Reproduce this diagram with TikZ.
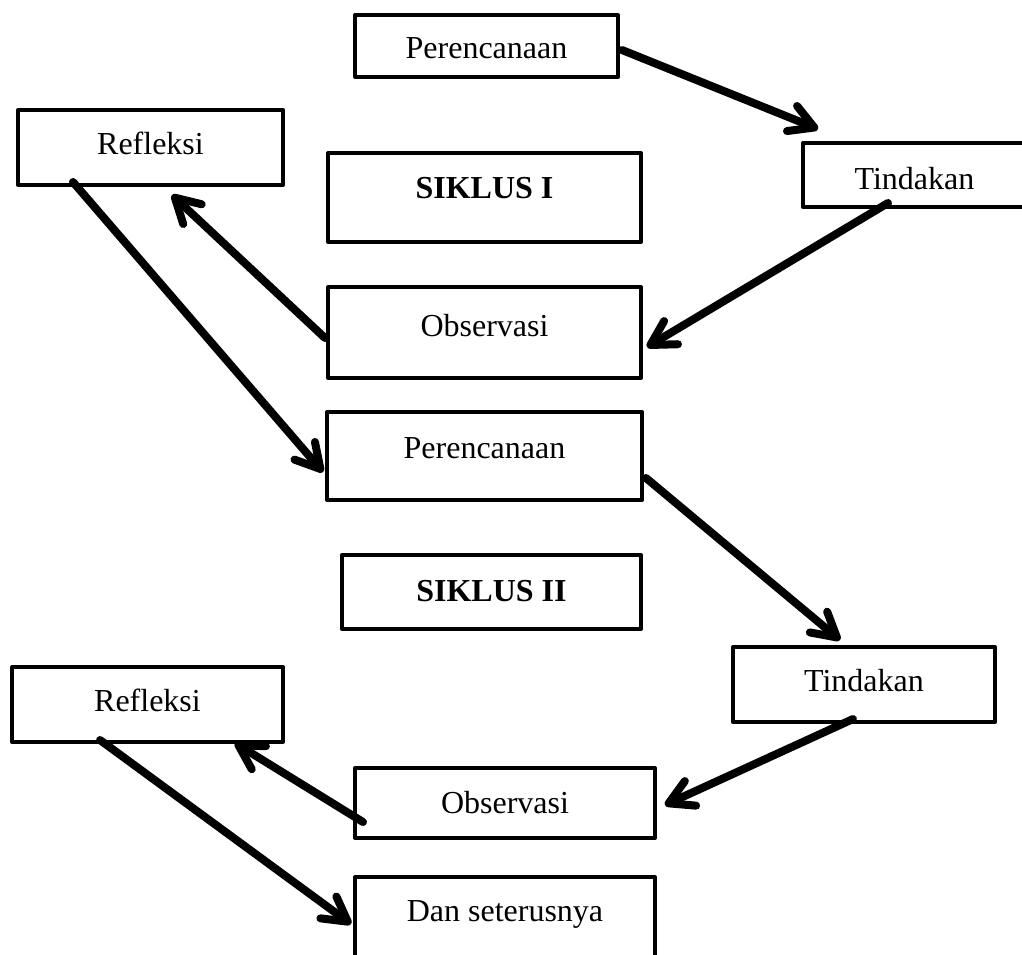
\documentclass[tikz,border=0pt]{standalone}
\usepackage{fontspec}
\setmainfont{Liberation Serif}
\usetikzlibrary{arrows.meta,calc}
\begin{document}
\begin{tikzpicture}[x=1pt,y=-1pt,
  box/.style={draw=black, line width=4pt, line join=round, rectangle, inner sep=0pt,
    font=\fontsize{32}{38}\selectfont, text height=22pt, text depth=8pt, fill=white},
  flow/.style={line width=8pt, line cap=round, line join=round,
    -{Straight Barb[length=24pt,width=27pt,line cap=round,line join=round]}}]
\useasboundingbox (0,0) rectangle (1022,954);
% boxes
\node[box, minimum width=263pt, minimum height=62pt, text height=32pt] (P1) at (486.5,46) {Perencanaan};
\node[box, minimum width=223pt, minimum height=64pt, text height=36pt] (T1) at (914.5,175) {Tindakan};
\node[box, minimum width=265pt, minimum height=75pt] (R1) at (150.5,147.5) {Refleksi};
\node[box, minimum width=313pt, minimum height=89pt, text depth=20pt, font=\fontsize{32}{38}\selectfont\bfseries] (S1) at (484.5,197.5) {SIKLUS I};
\node[box, minimum width=313pt, minimum height=91pt, text depth=14pt] (O1) at (484.5,332.5) {Observasi};
\node[box, minimum width=315pt, minimum height=88pt, text depth=18pt] (P2) at (484.5,456) {Perencanaan};
\node[box, minimum width=299pt, minimum height=74pt, text depth=4pt, font=\fontsize{32}{38}\selectfont\bfseries] (S2) at (491.5,592) {SIKLUS II};
\node[box, minimum width=262pt, minimum height=75pt] (T2) at (864,684.5) {Tindakan};
\node[box, minimum width=271pt, minimum height=75pt] (R2) at (147.5,704.5) {Refleksi};
\node[box, minimum width=300pt, minimum height=70pt, text height=24pt, text depth=4pt] (O2) at (505,803) {Observasi};
\node[box, minimum width=300pt, minimum height=83pt, text depth=16pt] (D) at (505,918.5) {Dan seterusnya};
% connectors
\draw[flow] ($(P1.east)+(2,4)$) -- ($(T1.north west)+(17,-12)$);
\draw[flow] ($(T1.south west)+(87,-6)$) -- ($(O1.east)+(4,14.5)$);
\draw[flow] ($(O1.west)+(-1,5.5)$) -- ($(R1.south)+(21.5,8)$);
\draw[flow] ($(R1.south west)+(57,-5)$) -- ($(P2.west)+(-2,16)$);
\draw[flow] ($(P2.east)+(2,22)$) -- ($(T2.north west)+(109,-5)$);
\draw[flow] ($(T2.south west)+(122,-5)$) -- ($(O2.east)+(8,2)$);
\draw[flow] ($(O2.west)+(10,19)$) -- ($(R2.south)+(87.5,-1)$);
\draw[flow] ($(R2.south west)+(90,-4)$) -- ($(D.west)+(-2,5.5)$);
\end{tikzpicture}
\end{document}
